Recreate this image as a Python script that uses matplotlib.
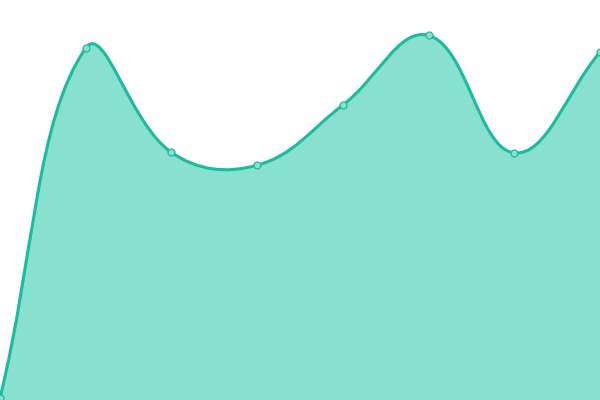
import numpy as np
import matplotlib
matplotlib.use('Agg')
import matplotlib.pyplot as plt
from matplotlib.path import Path
from matplotlib.patches import PathPatch

# values
labels = ['A', 'B', 'C', 'D', 'E', 'F', 'G', 'H']
values = [0, 87.9, 61.7, 58.5, 73.6, 91.1, 61.6, 86.9]

line_color = '#1abc9c'
fill_color = '#88e0cf'
tension = 0.4

fig = plt.figure(figsize=(6, 4), dpi=100)
ax = fig.add_axes([0, 0, 1, 1])
ax.set_xlim(0, len(values) - 1)
ax.set_ylim(-0.5, 100)
ax.axis('off')

x = np.arange(len(values))
pts = ax.transData.transform(np.column_stack([x, values]))
W, H = fig.bbox.width, fig.bbox.height

# cardinal spline control points, computed in pixel space
cps = []
n = len(pts)
for i in range(n):
    prev = pts[max(i - 1, 0)]
    cur = pts[i]
    nxt = pts[min(i + 1, n - 1)]
    d01 = np.hypot(*(cur - prev))
    d12 = np.hypot(*(nxt - cur))
    tot = d01 + d12
    s01 = d01 / tot if tot else 0
    s12 = d12 / tot if tot else 0
    cp_prev = cur - tension * s01 * (nxt - prev)
    cp_next = cur + tension * s12 * (nxt - prev)
    cp_prev = np.clip(cp_prev, [0, 0], [W, H])
    cp_next = np.clip(cp_next, [0, 0], [W, H])
    cps.append((cp_prev, cp_next))

verts = [pts[0]]
codes = [Path.MOVETO]
for i in range(1, n):
    verts += [cps[i - 1][1], cps[i][0], pts[i]]
    codes += [Path.CURVE4] * 3

inv = ax.transData.inverted()
line_verts = inv.transform(np.array(verts))

fill_verts = np.vstack([line_verts, [[x[-1], -0.5], [x[0], -0.5], line_verts[0]]])
fill_codes = codes + [Path.LINETO, Path.LINETO, Path.CLOSEPOLY]

ax.add_patch(PathPatch(Path(fill_verts, fill_codes), facecolor=fill_color,
                       edgecolor='none', zorder=1))
ax.add_patch(PathPatch(Path(line_verts, codes), facecolor='none',
                       edgecolor=line_color, linewidth=2.2, zorder=2,
                       clip_on=False))
ax.plot(x, values, 'o', markersize=5, markerfacecolor=fill_color,
        markeredgecolor=line_color, markeredgewidth=0.9, zorder=3, clip_on=False)

fig.savefig('out.png', dpi=100)
